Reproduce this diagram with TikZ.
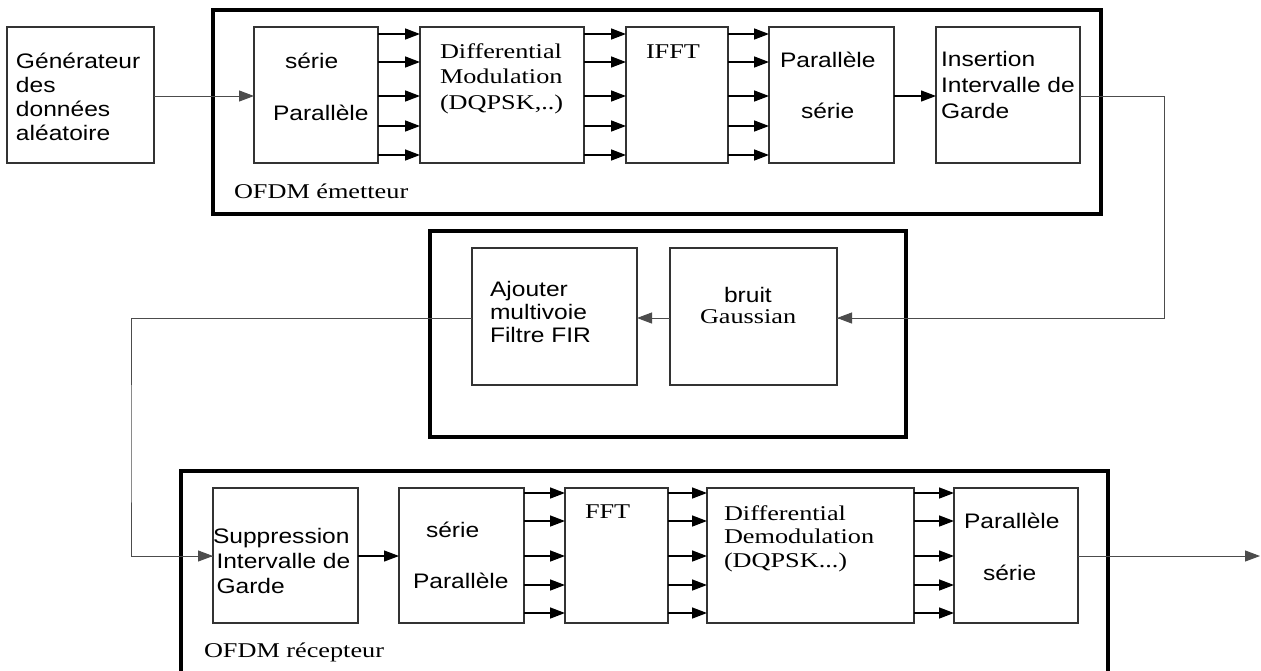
\documentclass[tikz,border=0pt]{standalone}
\usepackage{fontspec}
\setmainfont[FakeStretch=1.25]{Liberation Serif}
\setsansfont[FakeStretch=1.17]{Liberation Sans}
\usetikzlibrary{arrows.meta}
% stacked lines whose baseline is the baseline of the first line
\newcommand\linesat[1]{\begin{tabular}[t]{@{}l@{}}#1\end{tabular}}
\tikzset{
  x=1pt, y=-1pt,
  blk/.style={draw=black!80, line width=1.1pt, fill=white, anchor=north west,
              inner sep=0pt, outer sep=0pt, minimum height=136pt},
  frm/.style={draw=black, line width=4pt, anchor=north west,
              inner sep=0pt, outer sep=0pt},
  lbl/.style={anchor=base west, inner sep=0pt, outer sep=0pt,
              font=\sffamily\fontsize{21}{24}\selectfont},
  slbl/.style={lbl, font=\rmfamily\fontsize{21}{25.5}\selectfont},
  tip/.style={-{Triangle[length=15pt 0, width=11pt 0]}},
  arr/.style={line width=1.5pt, tip},
  wire/.style={line width=1pt, draw=black!70},
  warr/.style={wire, tip},
}
\begin{document}
\begin{tikzpicture}
\clip (0,0) rectangle (1261,670);
\fill[white] (0,0) rectangle (1261,670);

% enclosing frames
\node[frm, minimum width=888pt, minimum height=204pt] (tx) at (213,10) {};
\node[frm, minimum width=476pt, minimum height=206pt] (ch) at (430,231) {};
\node[frm, minimum width=927pt, minimum height=260pt] (rx) at (181,471) {};

% transmitter chain
\node[blk, minimum width=147pt] (gen) at (7,27) {};
\node[blk, minimum width=124pt] (sp1) at (254,27) {};
\node[blk, minimum width=164pt] (dm) at (420,27) {};
\node[blk, minimum width=102pt] (ifft) at (626,27) {};
\node[blk, minimum width=125pt] (ps1) at (769,27) {};
\node[blk, minimum width=144pt] (ins) at (936,27) {};

% channel
\node[blk, minimum width=165pt, minimum height=137pt] (ajout) at (472,248) {};
\node[blk, minimum width=167pt, minimum height=137pt] (bruit) at (670,248) {};

% receiver chain
\node[blk, minimum width=145pt, minimum height=135pt] (sup) at (213,488) {};
\node[blk, minimum width=125pt, minimum height=135pt] (sp2) at (399,488) {};
\node[blk, minimum width=103pt, minimum height=135pt] (fft) at (565,488) {};
\node[blk, minimum width=207pt, minimum height=135pt] (dd) at (707,488) {};
\node[blk, minimum width=124pt, minimum height=135pt] (ps2) at (954,488) {};

% labels
\node[lbl] (tgen) at (16,68) {\linesat{Générateur\\des\\données\\aléatoire}};
\node[lbl] (tsp1a) at (285,68) {série};
\node[lbl] (tsp1b) at (273,120) {Parallèle};
\node[slbl] (tdm) at (440,58) {\linesat{Differential\\Modulation\\(DQPSK,..)}};
\node[slbl] (tifft) at (646,58) {IFFT};
\node[lbl] (tps1a) at (780,67) {Parallèle};
\node[lbl] (tps1b) at (801,118) {série};
\node[lbl, font=\sffamily\fontsize{21}{26}\selectfont] (tins) at (941,66) {\linesat{Insertion\\Intervalle de\\Garde}};
\node[slbl] (ttx) at (234,198) {OFDM émetteur};

\node[lbl, font=\sffamily\fontsize{21}{23}\selectfont] (tajout) at (490,296) {\linesat{Ajouter\\multivoie\\Filtre FIR}};
\node[lbl] (tbruit) at (724,302) {bruit};
\node[slbl] (tgauss) at (700,323) {Gaussian};

\node[lbl, font=\sffamily\fontsize{21}{25}\selectfont] (tsup) at (213,543) {\linesat{Suppression\\\,Intervalle de\\\,Garde}};
\node[lbl] (tsp2a) at (426,537) {série};
\node[lbl] (tsp2b) at (413,588) {Parallèle};
\node[slbl] (tfft) at (585,518) {FFT};
\node[slbl, font=\rmfamily\fontsize{21}{23.5}\selectfont] (tdd) at (724,520) {\linesat{Differential\\Demodulation\\(DQPSK...)}};
\node[lbl] (tps2a) at (964,528) {Parallèle};
\node[lbl] (tps2b) at (983,580) {série};
\node[slbl] (trx) at (204,657) {OFDM récepteur};

% transmitter connectors
\draw[warr] (gen.east |- 0,96) -- (sp1.west |- 0,96);
\foreach \yy in {34,62,96,126,155} {
  \draw[arr] (sp1.east |- 0,\yy) -- (dm.west |- 0,\yy);
  \draw[arr] (dm.east |- 0,\yy) -- (ifft.west |- 0,\yy);
  \draw[arr] (ifft.east |- 0,\yy) -- (ps1.west |- 0,\yy);
}
\draw[arr, line width=1.2pt] (ps1.east |- 0,96) -- (ins.west |- 0,96);

% link through the channel
\coordinate (bendR) at (1164,200);
\coordinate (bendL) at (131,450);
\draw[wire] (ins.east |- 0,96) -| (bendR) |- (bruit.east |- 0,318);
\draw[warr] (bendR |- 0,318) -- (bruit.east |- 0,318);
\draw[warr] (bruit.west |- 0,318) -- (ajout.east |- 0,318);
\draw[wire] (ajout.west |- 0,318) -| (bendL) |- (sup.west |- 0,556);
\draw[warr] (bendL |- 0,556) -- (sup.west |- 0,556);

% receiver connectors
\draw[arr, line width=1.2pt] (sup.east |- 0,556) -- (sp2.west |- 0,556);
\foreach \yy in {493,521,556,585,613} {
  \draw[arr] (sp2.east |- 0,\yy) -- (fft.west |- 0,\yy);
  \draw[arr] (fft.east |- 0,\yy) -- (dd.west |- 0,\yy);
  \draw[arr] (dd.east |- 0,\yy) -- (ps2.west |- 0,\yy);
}
\coordinate (out) at (1260,556);
\draw[warr] (ps2.east |- 0,556) -- (out);
\end{tikzpicture}
\end{document}
